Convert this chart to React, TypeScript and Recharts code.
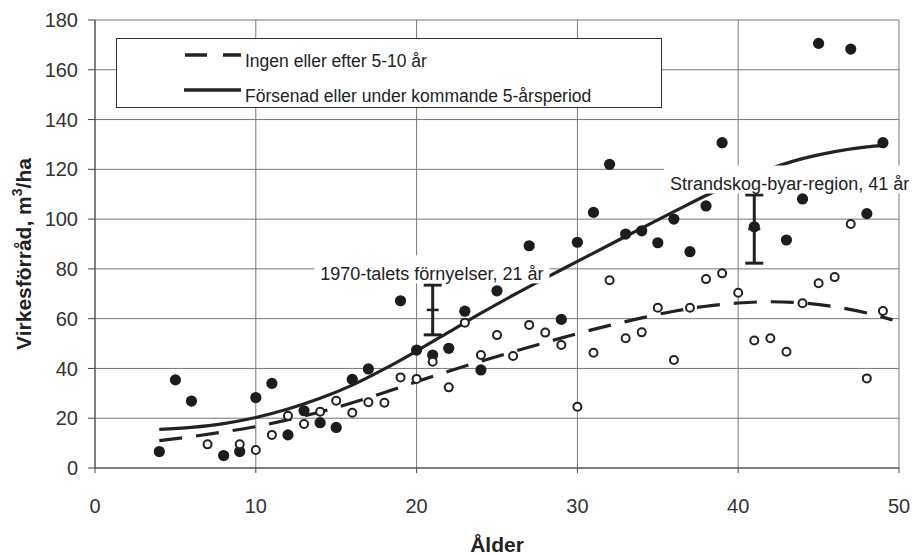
import React from "react"
import {
  ComposedChart,
  Line,
  Scatter,
  ErrorBar,
  XAxis,
  YAxis,
  CartesianGrid,
  Legend,
} from "recharts"

// filled dots: Försenad eller under kommande 5-årsperiod
const filledAges = [4, 5, 6, 8, 9, 10, 11, 12, 13, 14, 15, 16, 17, 19, 20, 21, 22, 23, 24, 25, 27, 29, 30, 31, 32, 33, 34, 35, 36, 37, 38, 39, 41, 43, 44, 45, 47, 48, 49]
const filledValues = [6.6, 35.4, 26.9, 5, 6.6, 28.3, 34, 13.3, 23, 18.2, 16.3, 35.6, 39.8, 67.2, 47.4, 45.4, 48.1, 63, 39.4, 71.2, 89.3, 59.7, 90.7, 102.7, 122, 94, 95.3, 90.5, 100, 86.9, 105.3, 130.7, 96.9, 91.6, 108.1, 170.6, 168.3, 102.2, 130.7]

// open dots: Ingen eller efter 5-10 år
const openAges = [7, 9, 10, 11, 12, 13, 14, 15, 16, 17, 18, 19, 20, 21, 22, 23, 24, 25, 26, 27, 28, 29, 30, 31, 32, 33, 34, 35, 36, 37, 38, 39, 40, 41, 42, 43, 44, 45, 46, 47, 48, 49]
const openValues = [9.5, 9.5, 7.2, 13.3, 21, 17.7, 22.6, 27, 22.2, 26.4, 26.2, 36.4, 35.8, 42.7, 32.4, 58.4, 45.4, 53.4, 45, 57.5, 54.4, 49.4, 24.6, 46.3, 75.4, 52.1, 54.5, 64.4, 43.4, 64.4, 75.9, 78.2, 70.4, 51.2, 52.1, 46.7, 66.2, 74.2, 76.7, 98, 36, 63.1]

// trend curves
const solidAges = [4, 6, 8, 10, 12, 14, 16, 18, 20, 22, 24, 26, 28, 30, 32, 34, 36, 38, 40, 42, 44, 46, 48, 49]
const solidValues = [15.5, 16.3, 17.8, 20.3, 23.7, 28, 33.3, 39.8, 47, 54.6, 62.2, 69.4, 76.3, 83, 89.7, 96.4, 103, 109.5, 115.3, 120.3, 124.3, 127.1, 129, 129.6]
const dashedAges = [4, 6, 8, 10, 12, 14, 16, 18, 20, 22, 24, 26, 28, 30, 32, 34, 36, 38, 40, 42, 44, 46, 48, 49.6]
const dashedValues = [11, 12.6, 14.5, 16.6, 19.4, 22.5, 26.2, 30.3, 34.7, 38.9, 42.9, 46.7, 50.4, 54, 57.3, 60.3, 63, 65, 66.3, 66.8, 66.3, 64.8, 62.3, 59.5]

// period means with range
const periodAges = [21, 41]
const periodMeans = [63.5, 96]
const periodErrors = [10, 13.7]

// annotation anchors
const noteTexts = ["1970-talets förnyelser, 21 år", "Strandskog-byar-region, 41 år"]
const noteAges = [20.95, 43.2]
const noteValues = [78.2, 114.3]

const legendNames = ["Ingen eller efter 5-10 år", "Försenad eller under kommande 5-årsperiod"]

const xTicks = [0, 10, 20, 30, 40, 50]
const yTicks = [0, 20, 40, 60, 80, 100, 120, 140, 160, 180]

const zip = (xs: number[], ys: number[]) => xs.map((x, i) => ({ x, y: ys[i] }))

const filledData = zip(filledAges, filledValues)
const openData = zip(openAges, openValues)
const solidData = zip(solidAges, solidValues)
const dashedData = zip(dashedAges, dashedValues)
const periodData = periodAges.map((x, i) => ({ x, y: periodMeans[i], err: periodErrors[i] }))
const noteData = noteAges.map((x, i) => ({ x, y: noteValues[i], text: noteTexts[i] }))

const FONT = "'Liberation Sans', Arial, sans-serif"
const INK = "#222"

let canvasCtx: CanvasRenderingContext2D | null = null
const textWidth = (t: string, size: number) => {
  if (!canvasCtx) canvasCtx = document.createElement("canvas").getContext("2d")
  if (!canvasCtx) return t.length * size * 0.5
  canvasCtx.font = `${size}px ${FONT}`
  return canvasCtx.measureText(t).width
}

const FilledDot = (props: any) => <circle cx={props.cx} cy={props.cy} r={5.6} fill="#1c1c1c" />
const OpenDot = (props: any) => (
  <circle cx={props.cx} cy={props.cy} r={4} fill="#fff" stroke={INK} strokeWidth={2} />
)
const MeanTick = (props: any) => (
  <line x1={props.cx - 6} x2={props.cx + 6} y1={props.cy} y2={props.cy} stroke={INK} strokeWidth={2.5} />
)

const NoteBox = (props: any) => {
  const { cx, cy, payload } = props
  const size = 18
  const w = textWidth(payload.text, size)
  return (
    <g>
      <rect x={cx - w / 2 - 6} y={cy - 18} width={w + 12} height={28} fill="#fff" />
      <text x={cx} y={cy + 6.5} textAnchor="middle" fontSize={size} fontFamily={FONT} fill={INK}>
        {payload.text}
      </text>
    </g>
  )
}

const LegendBox = () => (
  <div
    style={{
      width: 546,
      height: 70,
      boxSizing: "border-box",
      border: "1.5px solid #333",
      background: "#fff",
      position: "relative",
      fontFamily: FONT,
      fontSize: 17.5,
      color: INK,
    }}
  >
    <svg width={60} height={70} style={{ position: "absolute", left: 66, top: 0 }}>
      <line x1={2} x2={58} y1={16} y2={16} stroke={INK} strokeWidth={3.5} strokeDasharray="22 16" />
      <line x1={1} x2={58} y1={51} y2={51} stroke={INK} strokeWidth={3.5} />
    </svg>
    <div style={{ position: "absolute", left: 128, top: 12, whiteSpace: "nowrap" }}>{legendNames[0]}</div>
    <div style={{ position: "absolute", left: 128, top: 47, whiteSpace: "nowrap" }}>{legendNames[1]}</div>
  </div>
)

const YLabel = () => (
  <text
    transform="translate(31, 254) rotate(-90)"
    textAnchor="middle"
    fontSize={21}
    fontWeight="bold"
    fontFamily={FONT}
    fill={INK}
  >
    Virkesförråd, m
    <tspan fontSize={14} dy={-9}>3</tspan>
    <tspan dy={9}>/ha</tspan>
  </text>
)

const XLabel = () => (
  <text x={497} y={552} textAnchor="middle" fontSize={21} fontWeight="bold" fontFamily={FONT} fill={INK}>
    Ålder
  </text>
)

export default function App() {
  return (
    <div style={{ position: "absolute", left: 0, top: 0, background: "#fff" }}>
      <ComposedChart width={913} height={555} margin={{ top: 20, right: 14, bottom: 0, left: 0 }}>
        <CartesianGrid stroke="#777" strokeWidth={1} />
        <XAxis
          type="number"
          dataKey="x"
          domain={[0, 50]}
          ticks={xTicks}
          height={87}
          tickSize={5}
          tickMargin={26}
          stroke="#444"
          tick={{ fontSize: 20, fill: "#333", fontFamily: FONT }}
          label={{ content: () => <XLabel /> }}
        />
        <YAxis
          type="number"
          dataKey="y"
          domain={[0, 180]}
          ticks={yTicks}
          width={95}
          tickSize={7}
          tickMargin={10}
          stroke="#444"
          tick={{ fontSize: 20, fill: "#333", fontFamily: FONT }}
          label={{ content: () => <YLabel /> }}
        />
        <Line
          data={dashedData}
          dataKey="y"
          type="monotone"
          stroke={INK}
          strokeWidth={3.2}
          strokeDasharray="23 14"
          dot={false}
          activeDot={false}
          isAnimationActive={false}
          legendType="none"
        />
        <Line
          data={solidData}
          dataKey="y"
          type="monotone"
          stroke={INK}
          strokeWidth={3.2}
          dot={false}
          activeDot={false}
          isAnimationActive={false}
          legendType="none"
        />
        <Scatter data={noteData} dataKey="y" shape={NoteBox} isAnimationActive={false} legendType="none" />
        <Scatter data={periodData} dataKey="y" shape={MeanTick} isAnimationActive={false} legendType="none">
          <ErrorBar dataKey="err" direction="y" width={9} strokeWidth={3} stroke={INK} isAnimationActive={false} />
        </Scatter>
        <Scatter data={filledData} dataKey="y" shape={FilledDot} isAnimationActive={false} legendType="none" />
        <Scatter data={openData} dataKey="y" shape={OpenDot} isAnimationActive={false} legendType="none" />
        <Legend
          layout="vertical"
          align="center"
          verticalAlign="middle"
          content={() => <LegendBox />}
          wrapperStyle={{ position: "absolute", left: 116, top: 38, width: 546, height: 70 }}
        />
      </ComposedChart>
    </div>
  )
}
